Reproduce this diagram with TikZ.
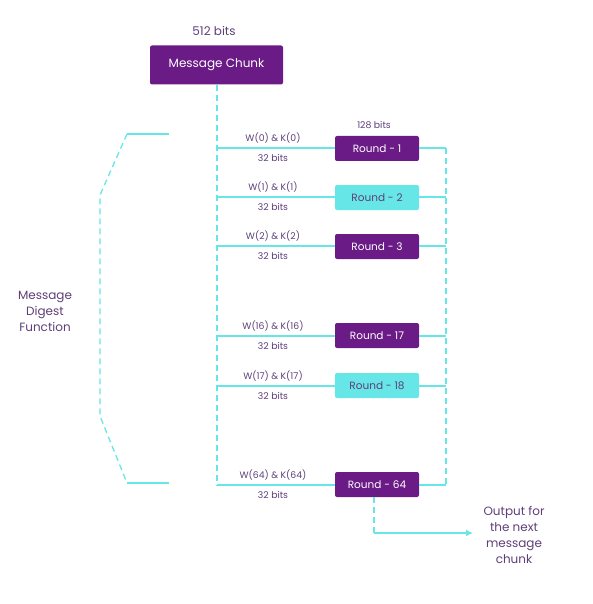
\documentclass[tikz,border=0pt]{standalone}
\usepackage{fontspec}
\setmainfont{Poppins}
\usetikzlibrary{arrows.meta}
\definecolor{mpurple}{HTML}{6A1B86}
\definecolor{mcyan}{HTML}{66E6E6}
\definecolor{mtext}{HTML}{5E3F78}
\tikzset{
  darkbox/.style={draw=none,fill=mpurple,rounded corners=2pt,text=white,minimum width=84pt,minimum height=25pt,inner sep=0pt,font=\fontsize{10.5}{12}\selectfont},
  lightbox/.style={darkbox,fill=mcyan,text=mtext},
  lbl/.style={text=mtext,font=\fontsize{9.3}{10}\selectfont,inner sep=0pt},
  bigl/.style={text=mtext,font=\fontsize{12}{16}\selectfont,inner sep=0pt,align=center},
  wire/.style={draw=mcyan,line width=1.3pt},
  dwire/.style={wire,dash pattern=on 6pt off 4pt},
}
\begin{document}
\begin{tikzpicture}[x=1pt,y=-1pt]
\useasboundingbox (0,0) rectangle (592,604);
% top
\node[bigl] (t512) at (214,31) {512 bits};
\node[darkbox,minimum width=133pt,minimum height=39pt,font=\fontsize{12}{14}\selectfont] (mc) at (216.5,65) {Message Chunk};
% rounds
\node[darkbox] (r1) at (377,148.5) {Round - 1};
\node[lightbox] (r2) at (377,197.5) {Round - 2};
\node[darkbox] (r3) at (377,246.5) {Round - 3};
\node[darkbox] (r17) at (377,335.5) {Round - 17};
\node[lightbox] (r18) at (377,385.5) {Round - 18};
\node[darkbox] (r64) at (377,484.5) {Round - 64};
\node[lbl] (b128) at (374,125) {128 bits};
% spine coordinates
\foreach \n/\y in {1/148,2/197,3/246,17/336,18/386,64/485}{
  \coordinate (l\n) at (217,\y);
  \coordinate (q\n) at (446,\y);
}
\draw[dwire] (mc.south -| l1) -- (l64);
\draw[dwire] (q1) -- (q64);
\foreach \n/\w/\y in {1/0/148,2/1/197,3/2/246,17/16/336,18/17/386,64/64/485}{
  \draw[wire] (l\n) -- (r\n.west |- l\n);
  \draw[wire] (r\n.east |- q\n) -- (q\n);
  \node[lbl] (w\n) at (273,\y-10) {W(\w) \& K(\w)};
  \node[lbl] (c\n) at (273,\y+10) {32 bits};
}
% output
\coordinate (o1) at (374,533);
\node[bigl] (out) at (514,535) {Output for\\the next\\message\\chunk};
\draw[dwire] (r64.south -| o1) -- (o1);
\draw[wire,-{Latex[length=7pt,width=7pt]}] (o1) -- (473,533);
% left bracket
\node[bigl] (mdf) at (45,311) {Message\\Digest\\Function};
\draw[wire] (169,134) -- (127,134);
\draw[dwire] (127,134) -- (100,195) -- (100,416) -- (127,483);
\draw[wire] (127,483) -- (169,483);
\end{tikzpicture}
\end{document}
